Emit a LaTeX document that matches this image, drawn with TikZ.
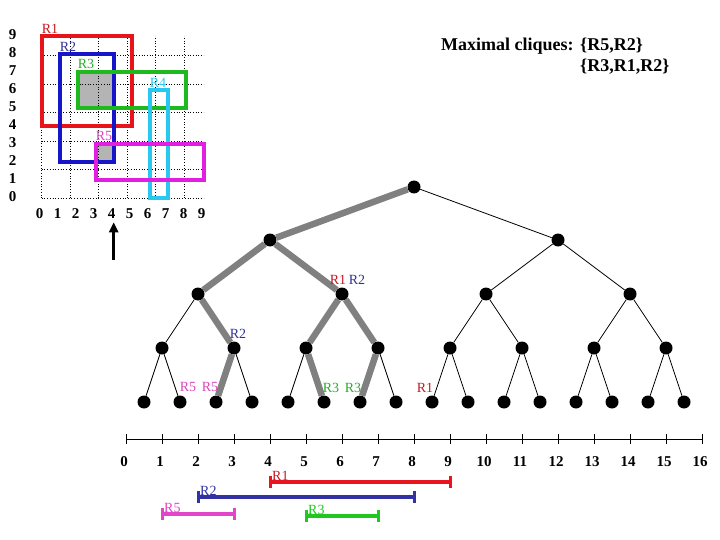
\documentclass[tikz,border=0pt]{standalone}
\usepackage{fontspec}
\setmainfont{Liberation Serif}
\usetikzlibrary{arrows.meta}
\definecolor{cRa}{RGB}{232,20,28}
\definecolor{cRb}{RGB}{22,22,200}
\definecolor{cRc}{RGB}{30,185,30}
\definecolor{cRd}{RGB}{40,200,240}
\definecolor{cRe}{RGB}{225,30,225}
\definecolor{navy}{RGB}{50,50,150}
\definecolor{lred}{RGB}{200,25,35}
\definecolor{lgreen}{RGB}{40,175,40}
\definecolor{lpink}{RGB}{220,70,190}
\definecolor{ired}{RGB}{232,20,30}
\definecolor{inavy}{RGB}{50,50,165}
\definecolor{ipink}{RGB}{225,70,200}
\definecolor{igreen}{RGB}{30,200,30}
\definecolor{hotgray}{RGB}{128,128,128}
\definecolor{shadegray}{RGB}{180,180,180}
\begin{document}
\begin{tikzpicture}[x=1pt,y=-1pt,
  lab/.style={font=\fontsize{14}{16}\selectfont,inner sep=0pt},
  num/.style={font=\fontsize{15}{17}\selectfont\bfseries,inner sep=0pt},
  title/.style={font=\fontsize{18}{20}\selectfont\bfseries,anchor=west,inner sep=0pt},
  rect/.style={line width=4pt},
  dot/.style={circle,fill=black,inner sep=0pt,minimum size=13pt},
  thinedge/.style={black,line width=0.8pt},
  hot/.style={draw=hotgray,line width=6.5pt},
  ival/.style={line width=4pt},
  ivcap/.style={line width=3pt}]
\useasboundingbox (0,0) rectangle (720,540);
% ---------- grid ----------
\begin{scope}[shift={(41.7,198)},x=18pt,y=18pt]
  \fill[shadegray] (2,5) rectangle (4,7);
  \fill[shadegray] (3,2) rectangle (4,3);
  \draw[dotted,line width=0.7pt] (0,0) grid (9,9);
  \draw[rect,cRa] (0,4) rectangle (5,9);
  \draw[rect,cRb] (1,2) rectangle (4,8);
  \draw[rect,cRc] (2,5) rectangle (8,7);
  \draw[rect,cRd] (6,0) rectangle (7,6);
  \draw[rect,cRe] (3,1) rectangle (9,3);
  \node[lab,text=lred,anchor=south west] (gR1) at (0.0,9.15) {R1};
  \node[lab,text=navy,anchor=south west] (gR2) at (1.0,8.15) {R2};
  \node[lab,text=lgreen,anchor=south west] (gR3) at (2.0,7.15) {R3};
  \node[lab,text=cRd,anchor=south west] (gR4) at (6.0,6.15) {R4};
  \node[lab,text=lpink,anchor=south west] (gR5) at (3.0,3.15) {R5};
  \foreach \i in {0,...,9} {
    \node[num] (gx\i) at (\i-0.12,-0.85) {\i};
    \node[num] (gy\i) at (-1.62,\i+0.1) {\i};
  }
  \coordinate (arrS) at (4,-3.45);
  \coordinate (arrE) at (4,-1.35);
\end{scope}
\draw[line width=2.6pt,-{Triangle[width=9pt,length=10pt]}] (arrS) -- (arrE);
% ---------- text ----------
\node[title] (mc) at (441,46) {Maximal cliques:};
\node[title] (mc1) at (580,46) {\{R5,R2\}};
\node[title] (mc2) at (580,67) {\{R3,R1,R2\}};
% ---------- tree ----------
\node[dot] (root) at (414,187) {};
\foreach \i in {0,1} \node[dot] (a\i) at ({270+288*\i},240) {};
\foreach \i in {0,...,3} \node[dot] (b\i) at ({198+144*\i},294) {};
\foreach \i in {0,...,7} \node[dot] (c\i) at ({162+72*\i},348) {};
\foreach \i in {0,...,15} \node[dot] (d\i) at ({144+36*\i},402) {};
\draw[thinedge] (root) -- (a0);
\draw[thinedge] (root) -- (a1);
\foreach \i in {0,1} {
  \pgfmathtruncatemacro\l{2*\i}\pgfmathtruncatemacro\r{2*\i+1}
  \draw[thinedge] (a\i) -- (b\l);
  \draw[thinedge] (a\i) -- (b\r);
}
\foreach \i in {0,...,3} {
  \pgfmathtruncatemacro\l{2*\i}\pgfmathtruncatemacro\r{2*\i+1}
  \draw[thinedge] (b\i) -- (c\l);
  \draw[thinedge] (b\i) -- (c\r);
}
\foreach \i in {0,...,7} {
  \pgfmathtruncatemacro\l{2*\i}\pgfmathtruncatemacro\r{2*\i+1}
  \draw[thinedge] (c\i) -- (d\l);
  \draw[thinedge] (c\i) -- (d\r);
}
\draw[hot] (root) -- (a0);
\draw[hot] (a0) -- (b0);
\draw[hot] (a0) -- (b1);
\draw[hot] (b0) -- (c1);
\draw[hot] (b1) -- (c2);
\draw[hot] (b1) -- (c3);
\draw[hot] (c1) -- (d2);
\draw[hot] (c2) -- (d5);
\draw[hot] (c3) -- (d6);
\node[lab,text=lred] (t1) at (338,280) {R1};
\node[lab,text=navy] (t2) at (357,280) {R2};
\node[lab,text=navy] (t3) at (238,334) {R2};
\node[lab,text=lpink] (t4) at (188,387) {R5};
\node[lab,text=lpink] (t5) at (210,387) {R5};
\node[lab,text=lgreen] (t6) at (331,388) {R3};
\node[lab,text=lgreen] (t7) at (353,388) {R3};
\node[lab,text=lred] (t8) at (425,388) {R1};
% ---------- number line ----------
\foreach \i in {0,...,16} \coordinate (n\i) at ({126+36*\i},439);
\draw[line width=0.8pt] (n0) -- (n16);
\foreach \i in {0,...,16} {
  \draw[line width=0.8pt] ([yshift=5pt]n\i) -- ([yshift=-5pt]n\i);
  \node[num] (nl\i) at ({124+36*\i},462) {\i};
}
% intervals
\coordinate (iaS) at (270,482); \coordinate (iaE) at (450,482);
\coordinate (ibS) at (198,497); \coordinate (ibE) at (414,497);
\coordinate (ieS) at (162,514); \coordinate (ieE) at (234,514);
\coordinate (icS) at (306,516); \coordinate (icE) at (378,516);
\foreach \s/\c in {ia/ired,ib/inavy,ie/ipink,ic/igreen} {
  \draw[ival,\c] (\s S) -- (\s E);
  \draw[ivcap,\c] ([yshift=6pt]\s S) -- ([yshift=-6pt]\s S);
  \draw[ivcap,\c] ([yshift=6pt]\s E) -- ([yshift=-6pt]\s E);
}
\node[lab,text=lred,anchor=south west] (iR1) at ([xshift=2pt,yshift=1pt]iaS) {R1};
\node[lab,text=inavy,anchor=south west] (iR2) at ([xshift=2pt,yshift=1pt]ibS) {R2};
\node[lab,text=ipink,anchor=south west] (iR5) at ([xshift=2pt,yshift=1pt]ieS) {R5};
\node[lab,text=igreen,anchor=south west] (iR3) at ([xshift=2pt,yshift=1pt]icS) {R3};
\end{tikzpicture}
\end{document}
